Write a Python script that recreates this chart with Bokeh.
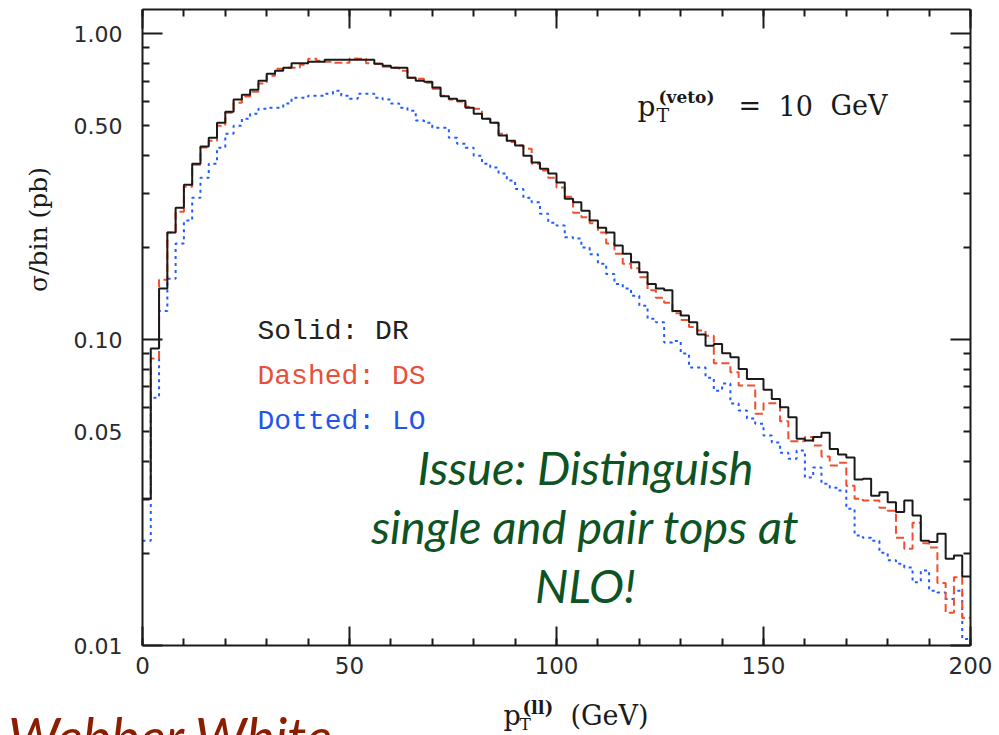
import numpy as np
from math import pi, log10
from bokeh.plotting import figure
from bokeh.models import (LogAxis, LinearAxis, FixedTicker, SingleIntervalTicker,
                          Label, PrintfTickFormatter, ColumnDataSource)
from bokeh.embed import file_html
from bokeh.resources import INLINE

# ---------------- data (sigma/bin in pb, 2 GeV bins from 0 to 200 GeV) -------------
bin_edges = np.arange(0, 202, 2)

dr_solid = [0.0302, 0.0935, 0.147, 0.224, 0.270, 0.321, 0.376, 0.428, 0.457, 0.512,
            0.556, 0.609, 0.632, 0.656, 0.702, 0.740, 0.757, 0.774, 0.800, 0.800,
            0.810, 0.810, 0.822, 0.822, 0.822, 0.822, 0.822, 0.822, 0.798, 0.786,
            0.774, 0.774, 0.718, 0.702, 0.697, 0.667, 0.624, 0.613, 0.604, 0.573,
            0.548, 0.527, 0.512, 0.465, 0.447, 0.431, 0.399, 0.379, 0.362, 0.349,
            0.326, 0.289, 0.281, 0.264, 0.245, 0.232, 0.224, 0.203, 0.191, 0.179,
            0.166, 0.152, 0.147, 0.145, 0.124, 0.120, 0.114, 0.104, 0.0955, 0.0968,
            0.0902, 0.0875, 0.0802, 0.0744, 0.0744, 0.0685, 0.0640, 0.0601, 0.0557, 0.0474,
            0.0468, 0.0480, 0.0496, 0.0439, 0.0421, 0.0412, 0.0349, 0.0351, 0.0309, 0.0317,
            0.0294, 0.0273, 0.0298, 0.0266, 0.0220, 0.0218, 0.0232, 0.0192, 0.0197, 0.0168]

ds_dashed = [0.0302, 0.0867, 0.157, 0.224, 0.262, 0.316, 0.373, 0.425, 0.447, 0.500,
             0.552, 0.595, 0.623, 0.646, 0.687, 0.729, 0.768, 0.774, 0.774, 0.792,
             0.829, 0.816, 0.810, 0.804, 0.804, 0.830, 0.829, 0.800, 0.798, 0.780,
             0.774, 0.757, 0.718, 0.713, 0.691, 0.661, 0.627, 0.609, 0.600, 0.577,
             0.569, 0.527, 0.512, 0.471, 0.443, 0.431, 0.421, 0.376, 0.357, 0.338,
             0.314, 0.293, 0.260, 0.251, 0.240, 0.224, 0.206, 0.191, 0.177, 0.171,
             0.160, 0.145, 0.137, 0.132, 0.122, 0.116, 0.110, 0.107, 0.103, 0.0837,
             0.0837, 0.0782, 0.0708, 0.0708, 0.0572, 0.0619, 0.0619, 0.0541, 0.0465, 0.0465,
             0.0480, 0.0451, 0.0415, 0.0388, 0.0396, 0.0333, 0.0302, 0.0298, 0.0298, 0.0282,
             0.0276, 0.0225, 0.0207, 0.0252, 0.0216, 0.0209, 0.0160, 0.0128, 0.0167, 0.0123]

lo_dotted = [0.0220, 0.0646, 0.124, 0.158, 0.206, 0.245, 0.291, 0.338, 0.376, 0.424,
             0.471, 0.500, 0.527, 0.548, 0.569, 0.573, 0.573, 0.591, 0.618, 0.618,
             0.627, 0.627, 0.637, 0.651, 0.627, 0.613, 0.637, 0.637, 0.618, 0.609,
             0.591, 0.573, 0.560, 0.520, 0.512, 0.493, 0.493, 0.457, 0.437, 0.424,
             0.399, 0.376, 0.365, 0.349, 0.331, 0.311, 0.291, 0.281, 0.258, 0.241,
             0.236, 0.216, 0.214, 0.200, 0.190, 0.177, 0.164, 0.152, 0.147, 0.139,
             0.129, 0.117, 0.114, 0.0978, 0.0990, 0.0900, 0.0810, 0.0810, 0.0751, 0.0681,
             0.0718, 0.0618, 0.0586, 0.0552, 0.0531, 0.0486, 0.0461, 0.0427, 0.0408, 0.0434,
             0.0354, 0.0382, 0.0338, 0.0328, 0.0321, 0.0280, 0.0229, 0.0225, 0.0220, 0.0201,
             0.0190, 0.0185, 0.0180, 0.0161, 0.0176, 0.0151, 0.0149, 0.0142, 0.0151, 0.0105]

x_limits = (0, 200)
y_limits = (0.01, 1.2)
y_decades = [0.01, 0.1, 1.0]
y_half_labels = [0.05, 0.5]
y_minor = [0.02, 0.03, 0.04, 0.05, 0.06, 0.07, 0.08, 0.09,
           0.2, 0.3, 0.4, 0.5, 0.6, 0.7, 0.8, 0.9]

legend_lines = ["Solid: DR", "Dashed: DS", "Dotted: LO"]
issue_lines = ["Issue: Distinguish", "single and pair tops at", "NLO!"]

# ---------------- layout: plotting box inside a full-canvas frame ----------------
W, H = 999, 735
BOX_L, BOX_R, BOX_T, BOX_B = 142, 970, 9, 645

px_per_x = (BOX_R - BOX_L) / (x_limits[1] - x_limits[0])
x_start = x_limits[0] - BOX_L / px_per_x
x_end = x_limits[1] + (W - BOX_R) / px_per_x
px_per_dec = (BOX_B - BOX_T) / (log10(y_limits[1]) - log10(y_limits[0]))
y_start = 10 ** (log10(y_limits[0]) - (H - BOX_B) / px_per_dec)
y_end = 10 ** (log10(y_limits[1]) + BOX_T / px_per_dec)

INK = "#1a1a1a"
LABEL_INK = "#2a2a2a"
RED = "#f0502f"
BLUE = "#1f5bff"

p = figure(width=W, height=H, y_axis_type="log",
           x_range=(x_start, x_end), y_range=(y_start, y_end),
           x_axis_location=None, y_axis_location=None,
           output_backend="svg", toolbar_location=None)
p.min_border = 0
p.min_border_left = 0
p.min_border_right = 0
p.min_border_top = 0
p.min_border_bottom = 0
p.grid.visible = False
p.outline_line_color = None
p.background_fill_color = "white"
p.border_fill_color = "white"


def style_axis(ax, major_len, minor_len, line=True):
    ax.major_tick_in = major_len
    ax.major_tick_out = 0
    ax.minor_tick_in = minor_len
    ax.minor_tick_out = 0
    ax.axis_line_color = INK if line else None
    ax.axis_line_width = 2
    ax.major_tick_line_color = INK
    ax.minor_tick_line_color = INK
    ax.major_tick_line_width = 2
    ax.minor_tick_line_width = 2
    return ax


def hide_labels(ax):
    ax.major_label_text_font_size = "2px"
    ax.major_label_text_alpha = 0
    ax.major_label_standoff = 0
    return ax


# left axis (labels at decades, long decade ticks, short minor ticks)
yax = style_axis(LogAxis(ticker=FixedTicker(ticks=y_decades, minor_ticks=y_minor),
                         formatter=PrintfTickFormatter(format="%.2f"),
                         fixed_location=x_limits[0], bounds=y_limits), 20, 7)
yax.major_label_text_font = "DejaVu Sans"
yax.major_label_text_font_size = "22px"
yax.major_label_text_color = LABEL_INK
yax.major_label_standoff = 20
p.add_layout(yax, "left")

# right mirror
rax = hide_labels(style_axis(LogAxis(ticker=FixedTicker(ticks=y_decades, minor_ticks=y_minor),
                                     fixed_location=x_limits[1], bounds=y_limits), 20, 7))
p.add_layout(rax, "right")

# bottom axis
xax = style_axis(LinearAxis(ticker=SingleIntervalTicker(interval=50, num_minor_ticks=5),
                            fixed_location=y_limits[0], bounds=x_limits), 19, 7)
xax.major_label_text_font = "DejaVu Sans"
xax.major_label_text_font_size = "23px"
xax.major_label_text_color = LABEL_INK
xax.major_label_standoff = 11
p.add_layout(xax, "below")

# top mirror
tax = hide_labels(style_axis(LinearAxis(ticker=SingleIntervalTicker(interval=50, num_minor_ticks=5),
                                        fixed_location=y_limits[1], bounds=x_limits), 19, 7))
p.add_layout(tax, "above")

# ---------------- histograms ----------------
def step_source(vals):
    return ColumnDataSource(dict(x=list(bin_edges), y=list(vals) + [vals[-1]]))

p.step("x", "y", source=step_source(lo_dotted), mode="after",
       line_color=BLUE, line_width=2, line_dash="3 4")
p.step("x", "y", source=step_source(ds_dashed), mode="after",
       line_color=RED, line_width=2, line_dash="8 4")
p.step("x", "y", source=step_source(dr_solid), mode="after",
       line_color=INK, line_width=2)

# ---------------- texts (canvas pixel positions; frame == canvas) ----------------
def add_text(cx, cy, text, font, size, color, align="left", baseline="alphabetic",
             style="normal", angle=0.0):
    p.add_layout(Label(x=cx, y=H - cy, x_units="screen", y_units="screen",
                       text=text, text_font=font, text_font_size=size,
                       text_color=color, text_align=align, text_baseline=baseline,
                       text_font_style=style, angle=angle))


# y tick labels at 0.50 and 0.05 (placed through the y scale)
for v in y_half_labels:
    p.add_layout(Label(x=BOX_L - 20, x_units="screen", y=v, y_units="data",
                       text="%.2f" % v, text_font="DejaVu Sans", text_font_size="22px",
                       text_color=LABEL_INK, text_align="right", text_baseline="middle"))

# legend text
legend_colors = ["#222222", "#e8503a", "#1f55ee"]
for i, (t, c) in enumerate(zip(legend_lines, legend_colors)):
    add_text(257, 331 + 45 * i, t, "Liberation Mono", "28px", c)

# p_T^(veto) = 10 GeV
add_text(637, 106, "p", "DejaVu Serif", "28px", INK)
add_text(656, 114, "T", "DejaVu Serif", "19px", INK)
add_text(658, 96, "(veto)", "DejaVu Serif", "17px", INK, style="bold")
add_text(738, 105, "=", "DejaVu Serif", "27px", INK)
add_text(778, 105, "10", "DejaVu Serif", "27px", INK)
add_text(830, 105, "GeV", "DejaVu Serif", "27px", INK)

# x axis label p_T^(ll) (GeV)
add_text(503, 715, "p", "DejaVu Serif", "27px", INK)
add_text(519, 723, "T", "DejaVu Serif", "17px", INK)
add_text(522, 707, "(ll)", "DejaVu Serif", "18px", INK, style="bold")
add_text(570, 715, "(GeV)", "DejaVu Serif", "27px", INK)

# y axis label
add_text(38, 229, "σ/bin (pb)", "DejaVu Serif", "25px", INK,
         align="center", baseline="middle", angle=pi / 2)

# annotation
for i, t in enumerate(issue_lines):
    add_text(585, 466 + 59 * i, t, "Lato", "47px", "#0d5323",
             align="center", style="italic")

add_text(333, 736, "Webber White", "Lato", "54px", "#8b1e00",
         align="right", style="italic")

open("out.html", "w").write(file_html(p, INLINE))
